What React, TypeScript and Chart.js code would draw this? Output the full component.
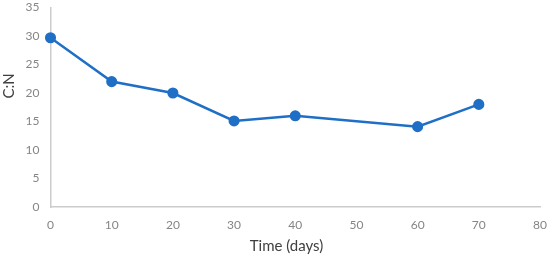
import React, { useEffect, useRef } from "react";
import { Chart, registerables } from "chart.js";

Chart.register(...registerables);

const days = [0, 10, 20, 30, 40, 60, 70];
const cnRatio = [29.7, 22, 20, 15.1, 16, 14.1, 18];
const xTitle = "Time (days)";
const yTitle = "C:N";
const xMin = 0, xMax = 80, xStep = 10;
const yMin = 0, yMax = 35, yStep = 5;

const FONT = "Lato, 'Open Sans', sans-serif";
const LINE = "#1f6fc6";

export default function App() {
  const ref = useRef<HTMLCanvasElement | null>(null);
  useEffect(() => {
    document.body.style.margin = "0";
    const titlesPlugin = {
      id: "axisTitles",
      afterDraw(chart: any) {
        const ctx = chart.ctx;
        ctx.save();
        ctx.font = `15px ${FONT}`;
        ctx.fillStyle = "#404040";
        ctx.textAlign = "center";
        ctx.textBaseline = "middle";
        ctx.fillText(xTitle, 286.5, 246.5);
        ctx.translate(9.5, 86);
        ctx.rotate(-Math.PI / 2);
        ctx.fillText(yTitle, 0, 0);
        ctx.restore();
      },
    };
    const chart = new Chart(ref.current!, {
      type: "line",
      data: {
        datasets: [
          {
            data: days.map((d, i) => ({ x: d, y: cnRatio[i] })),
            borderColor: LINE,
            backgroundColor: LINE,
            borderWidth: 2.5,
            pointRadius: 4.3,
            pointBackgroundColor: LINE,
            pointBorderColor: LINE,
            tension: 0,
            clip: false,
          },
        ],
      },
      options: {
        responsive: false,
        animation: false,
        layout: { autoPadding: false, padding: { left: 0, right: 10, top: 7.5, bottom: 0 } },
        plugins: { legend: { display: false }, tooltip: { enabled: false } },
        scales: {
          x: {
            type: "linear",
            min: xMin,
            max: xMax,
            afterFit: (s: any) => { s.height = 52; },
            grid: { display: true, drawOnChartArea: false, drawTicks: true, tickLength: 11, tickColor: "rgba(0,0,0,0)" },
            border: { color: "#cccccc", width: 1.5 },
            ticks: { stepSize: xStep, padding: 0, color: "#858585", font: { family: FONT, size: 12 } },
          },
          y: {
            min: yMin,
            max: yMax,
            afterFit: (s: any) => { s.width = 50.5; },
            grid: { display: true, drawOnChartArea: false, drawTicks: true, tickLength: 11, tickColor: "rgba(0,0,0,0)" },
            border: { color: "#cccccc", width: 1.5 },
            ticks: { stepSize: yStep, padding: 0, color: "#858585", font: { family: FONT, size: 12 } },
          },
        },
      },
      plugins: [titlesPlugin],
    });
    return () => chart.destroy();
  }, []);
  return (
    <div style={{ width: 550, height: 259 }}>
      <canvas ref={ref} width={550} height={259} />
    </div>
  );
}
